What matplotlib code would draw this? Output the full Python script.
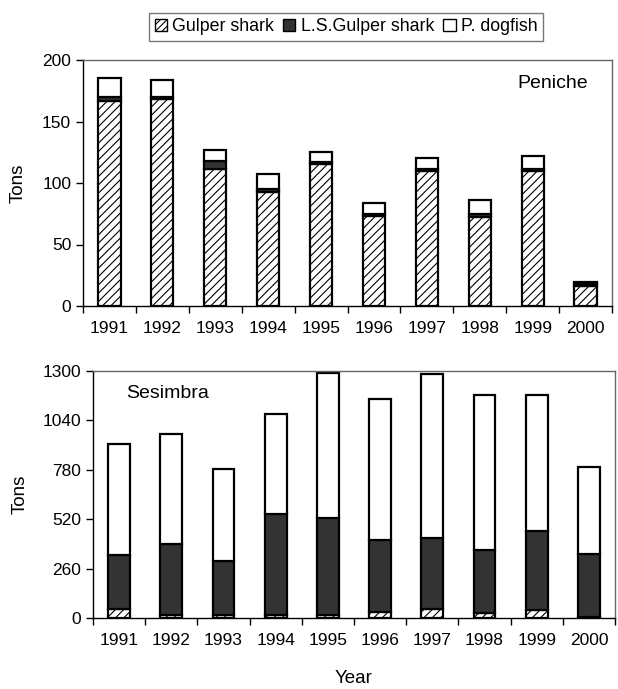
import numpy as np
import matplotlib
matplotlib.use("Agg")
import matplotlib.pyplot as plt
from matplotlib.patches import Patch

plt.rcParams["font.family"] = ["Liberation Sans", "DejaVu Sans"]
plt.rcParams["hatch.linewidth"] = 0.8

years = ["1991", "1992", "1993", "1994", "1995", "1996", "1997", "1998", "1999", "2000"]

# Peniche landings (tons), stacked segments
pen_gulper = [167, 168.5, 111, 92.5, 115.5, 73, 109.5, 72, 109.5, 16]
pen_ls_gulper = [3, 1.5, 7, 2.5, 1.5, 2, 2, 2.5, 2, 2]
pen_dogfish = [15.5, 13.5, 8.5, 12.5, 8, 9, 8.5, 11.5, 10.5, 1.5]

# Sesimbra landings (tons), stacked segments
ses_gulper = [47, 17, 17, 15, 15, 30, 47, 25, 40, 5]
ses_ls_gulper = [286, 372, 284, 532, 509, 382, 372, 334, 417, 331]
ses_dogfish = [583, 582, 482, 529, 764, 741, 864, 817, 719, 461]

fig = plt.figure(figsize=(6.18, 6.89), dpi=100)
W, H = 618, 689
ax1 = fig.add_axes([83 / W, 1 - 306 / H, (612 - 83) / W, (306 - 60) / H])
ax2 = fig.add_axes([93 / W, 1 - 618 / H, (615 - 93) / W, (618 - 371) / H])

x = np.arange(len(years))
width = 0.42


def draw(ax, g, ls, d, ymax, ticks):
    g = np.array(g)
    ls = np.array(ls)
    d = np.array(d)
    ax.bar(x, g, width, color="white", edgecolor="black", hatch="////", linewidth=1.6)
    ax.bar(x, ls, width, bottom=g, color="#333333", edgecolor="black", linewidth=1.6)
    ax.bar(x, d, width, bottom=g + ls, color="white", edgecolor="black", linewidth=1.6)
    ax.set_xlim(-0.5, len(years) - 0.5)
    ax.set_ylim(0, ymax)
    ax.set_yticks(ticks)
    ax.set_xticks(x)
    ax.set_xticklabels(years)
    ax.set_xticks(np.arange(len(years) + 1) - 0.5, minor=True)
    ax.tick_params(axis="x", which="major", length=0, pad=10.5, labelsize=12.5)
    ax.tick_params(axis="x", which="minor", length=5, direction="out", width=1)
    ax.tick_params(axis="y", length=5, direction="out", width=1, labelsize=12.5)
    for s in ["top", "right"]:
        ax.spines[s].set_color("#666666")
        ax.spines[s].set_linewidth(1)
    for s in ["left", "bottom"]:
        ax.spines[s].set_color("black")
        ax.spines[s].set_linewidth(1)
    ax.set_ylabel("Tons", fontsize=13.5)


draw(ax1, pen_gulper, pen_ls_gulper, pen_dogfish, 200, [0, 50, 100, 150, 200])
draw(ax2, ses_gulper, ses_ls_gulper, ses_dogfish, 1300, [0, 260, 520, 780, 1040, 1300])

ax1.text(0.888, 0.906, "Peniche", transform=ax1.transAxes, ha="center", va="center", fontsize=14)
ax2.text(0.142, 0.91, "Sesimbra", transform=ax2.transAxes, ha="center", va="center", fontsize=14)
ax1.yaxis.set_label_coords(-0.106, 0.5)
ax2.yaxis.set_label_coords(-0.123, 0.5)
ax2.set_xlabel("Year", fontsize=13.5, labelpad=16)

handles = [
    Patch(facecolor="white", edgecolor="black", hatch="/////", label="Gulper shark"),
    Patch(facecolor="#333333", edgecolor="black", label="L.S.Gulper shark"),
    Patch(facecolor="white", edgecolor="black", label="P. dogfish"),
]
leg = fig.legend(handles=handles, loc="upper center", bbox_to_anchor=(346 / W, 1 - 4 / H),
                 ncol=3, fontsize=12.8, frameon=True, fancybox=False, handlelength=0.7,
                 handleheight=0.7, handletextpad=0.3, columnspacing=0.5, borderpad=0.3)
leg.get_frame().set_edgecolor("#555555")
leg.get_frame().set_linewidth(1)

fig.savefig("out.png", dpi=100)
